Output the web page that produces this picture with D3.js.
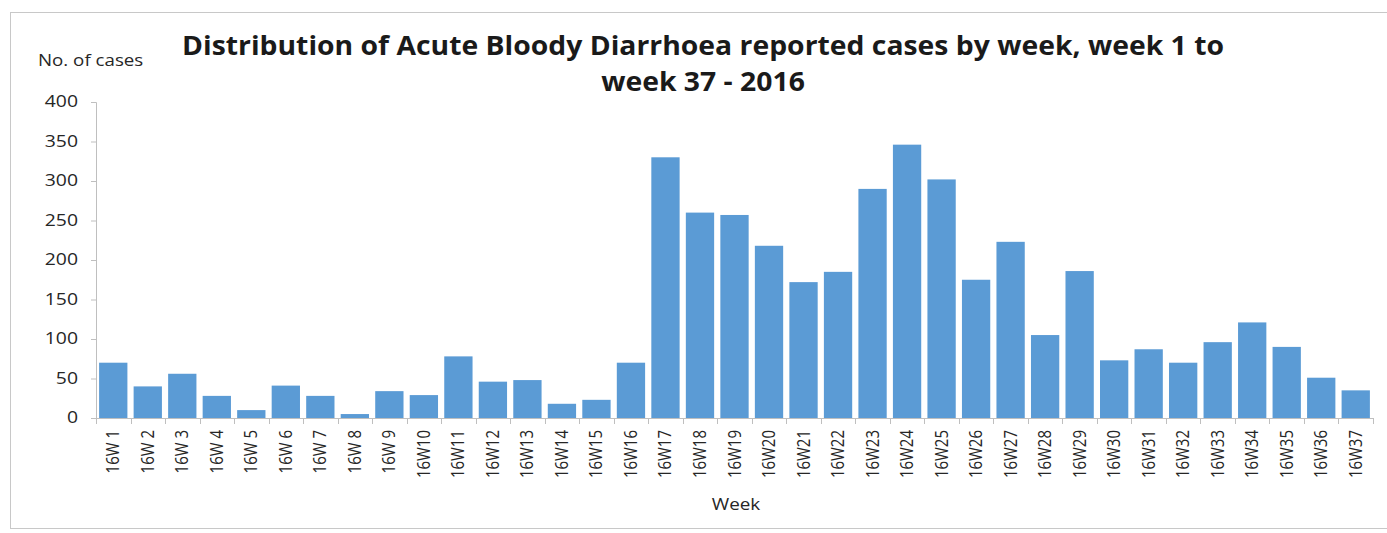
<!DOCTYPE html>
<html>
<head>
<meta charset="utf-8">
<script src="https://cdn.jsdelivr.net/npm/d3@7"></script>
<style>
  body { margin: 0; background: #fff; }
  text { font-family: "Open Sans", sans-serif; }
</style>
</head>
<body>
<div id="chart"></div>
<script>
// week labels and reported cases
var weeks = ["16W 1", "16W 2", "16W 3", "16W 4", "16W 5", "16W 6", "16W 7", "16W 8", "16W 9",
    "16W10", "16W11", "16W12", "16W13", "16W14", "16W15", "16W16", "16W17", "16W18", "16W19",
    "16W20", "16W21", "16W22", "16W23", "16W24", "16W25", "16W26", "16W27", "16W28", "16W29",
    "16W30", "16W31", "16W32", "16W33", "16W34", "16W35", "16W36", "16W37"];
var cases = [70, 40, 56, 28, 10, 41, 28, 5, 34, 29, 78, 46, 48, 18, 23, 70, 330, 260, 257,
    218, 172, 185, 290, 346, 302, 175, 223, 105, 186, 73, 87, 70, 96, 121, 90, 51, 35];
var yTicks = [0, 50, 100, 150, 200, 250, 300, 350, 400];
var titleLines = ["Distribution of Acute Bloody Diarrhoea reported cases by week, week 1 to",
    "week 37 - 2016"];

var width = 1387, height = 533;
var margin = { top: 102, right: 14, bottom: 115, left: 96 };
var w = width - margin.left - margin.right;
var h = height - margin.top - margin.bottom;

// the source picture is a bit wider than tall, so text is stretched sideways
var stretch = 1.2;

var svg = d3.select("#chart").append("svg")
    .attr("width", width)
    .attr("height", height);

// outer frame (only top and left edges are visible)
svg.append("rect")
    .attr("x", 10.5).attr("y", 12.5)
    .attr("width", width + 20).attr("height", 516)
    .attr("fill", "none")
    .attr("stroke", "#c8c8c8");

// title
svg.selectAll(".title")
    .data(titleLines)
    .enter().append("text")
    .attr("class", "title")
    .attr("transform", function(d, i) {
        return "translate(703," + (55 + i * 36) + ") scale(1.09,1)";
    })
    .attr("text-anchor", "middle")
    .attr("font-size", "26px")
    .attr("font-weight", "bold")
    .attr("fill", "#1a1a1a")
    .text(function(d) { return d; });

var g = svg.append("g")
    .attr("transform", "translate(" + margin.left + "," + margin.top + ")");

var x = d3.scaleBand()
    .domain(weeks)
    .range([0, w])
    .paddingInner(0.18)
    .paddingOuter(0.09);

var y = d3.scaleLinear()
    .domain([0, 400])
    .range([h, 0]);

// bars
g.selectAll(".bar")
    .data(cases)
    .enter().append("rect")
    .attr("class", "bar")
    .attr("x", function(d, i) { return x(weeks[i]); })
    .attr("y", function(d) { return y(d); })
    .attr("width", x.bandwidth())
    .attr("height", function(d) { return h - y(d); })
    .attr("fill", "#5b9bd5");

// y axis
var yAxis = d3.axisLeft(y).tickValues(yTicks).tickSize(5).tickPadding(0);
var yg = g.append("g").attr("class", "y-axis").call(yAxis);
yg.select(".domain").attr("stroke", "#bfbfbf");
yg.selectAll(".tick line").attr("stroke", "#bfbfbf");
yg.selectAll(".tick text")
    .attr("x", 0)
    .attr("transform", "translate(-18,0) scale(1.25,1)")
    .attr("font-size", "15.5px")
    .attr("fill", "#262626");

// x axis: line and ticks between categories
g.append("line")
    .attr("x1", 0).attr("x2", w)
    .attr("y1", h + 0.5).attr("y2", h + 0.5)
    .attr("stroke", "#bfbfbf");

var step = x.step();
g.selectAll(".xtick")
    .data(d3.range(weeks.length + 1))
    .enter().append("line")
    .attr("class", "xtick")
    .attr("x1", function(i) { return Math.round(i * step) + 0.5; })
    .attr("x2", function(i) { return Math.round(i * step) + 0.5; })
    .attr("y1", h).attr("y2", h + 6)
    .attr("stroke", "#bfbfbf");

g.selectAll(".xlabel")
    .data(weeks)
    .enter().append("text")
    .attr("class", "xlabel")
    .attr("transform", function(d) {
        return "translate(" + (x(d) + x.bandwidth() / 2 + 6) + "," + (h + 12) + ") rotate(-90) scale(1," + stretch + ")";
    })
    .attr("text-anchor", "end")
    .attr("font-size", "15px")
    .attr("fill", "#262626")
    .text(function(d) { return d; });

// axis titles
svg.append("text")
    .attr("transform", "translate(38,66) scale(1.17,1)")
    .attr("font-size", "16px")
    .attr("fill", "#262626")
    .text("No. of cases");

svg.append("text")
    .attr("transform", "translate(736,510) scale(1.18,1)")
    .attr("text-anchor", "middle")
    .attr("font-size", "16px")
    .attr("fill", "#262626")
    .text("Week");
</script>
</body>
</html>
